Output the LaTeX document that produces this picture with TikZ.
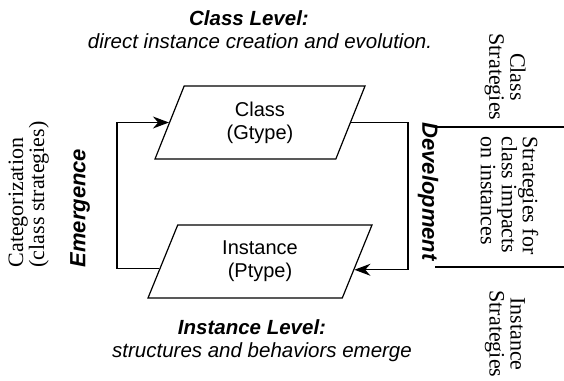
\documentclass[tikz,border=0pt]{standalone}
\usepackage{fontspec}
\setmainfont{Liberation Serif}
\setsansfont{Liberation Sans}
\usetikzlibrary{shapes.geometric,arrows.meta}

\begin{document}
\begin{tikzpicture}[x=1pt, y=-1pt, line width=1.2pt,
		levelbox/.style = {shape=trapezium, draw, trapezium stretches body, align=center,
	minimum height=73pt, inner sep=0pt, font=\sffamily\fontsize{20}{23}\selectfont},
		levelhead/.style = {anchor=base, inner sep=0pt, font=\sffamily\bfseries\itshape\fontsize{20.5}{21}\selectfont},
		levelsub/.style = {anchor=base, inner sep=0pt, font=\sffamily\itshape\fontsize{20.5}{21}\selectfont},
		flowtext/.style = {inner sep=0pt, font=\sffamily\bfseries\itshape\fontsize{22}{22}\selectfont},
		sidenote/.style = {inner sep=0pt, font=\rmfamily\fontsize{22}{21}\selectfont},
		flowarrow/.style = {-{Stealth[length=16pt, width=12pt]}}]
			\useasboundingbox (0,0) rectangle (564,380);
			\node[levelhead] (clshead) at (249,25) {Class Level:};
			\node[levelsub] (clssub) at (260,48) {direct instance creation and evolution.};
			\node[levelhead] (inshead) at (252,334) {Instance Level:};
			\node[levelsub] (inssub) at (262,357) {structures and behaviors emerge};
			\node[levelbox, minimum width=210pt, trapezium left angle=55, trapezium right angle=125] (cls) at (260,122.5) {Class\\(Gtype)};
			\node[levelbox, minimum width=224pt, trapezium left angle=54, trapezium right angle=126] (ins) at (260,261.5) {Instance\\(Ptype)};
			\coordinate (lft) at (117,190);
			\coordinate (rgt) at (408,190);
			\draw[flowarrow] (ins.184) -| (lft) |- (cls.180);
			\draw[flowarrow] (cls.0) -| (rgt) |- (ins.-5);
			\node[flowtext, rotate=90, anchor=west] (emerg) at (80,268) {Emergence};
			\node[flowtext, rotate=-90, anchor=west] (devel) at (428,122) {Development};
			\node[sidenote, rotate=90, anchor=north west, align=left] (categ) at (8,268) {Categorization\\(class strategies)};
			\node[sidenote, rotate=-90, align=center] (clsstrat) at (505,77) {Class\\Strategies};
			\node[sidenote, rotate=-90, anchor=north west, align=left] (impact) at (539,136) {Strategies for\\class impacts\\on instances};
			\node[sidenote, rotate=-90, align=center] (insstrat) at (505,334) {Instance\\Strategies};
			\coordinate (topa) at (437,127);
			\coordinate (topb) at (564,127);
			\coordinate (bota) at (435,267);
			\coordinate (botb) at (564,267);
			\draw (topa) -- (topb);
			\draw (bota) -- (botb);
		\end{tikzpicture}
\end{document}
